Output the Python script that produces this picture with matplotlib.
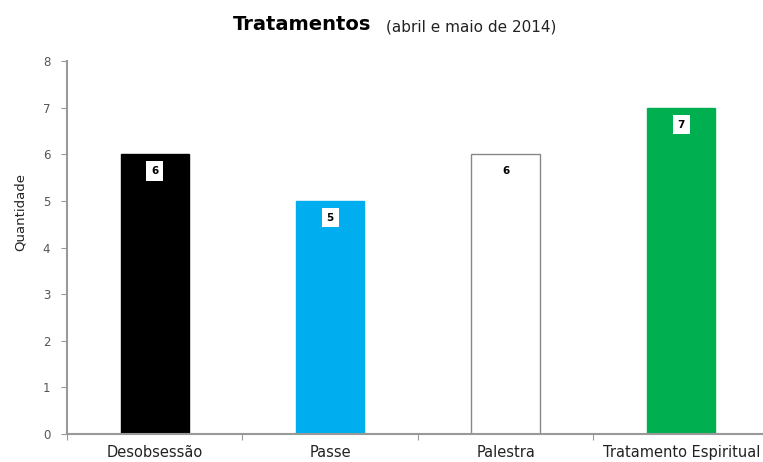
import matplotlib.pyplot as plt
import numpy as np

plt.rcParams["font.family"] = ["DejaVu Sans"]

categories = ["Desobsessão", "Passe", "Palestra", "Tratamento Espiritual"]
values = [6, 5, 6, 7]
colors = ["#000000", "#00aeef", "#ffffff", "#00b050"]
edges = ["#000000", "#00aeef", "#888888", "#00b050"]

fig = plt.figure(figsize=(7.63, 4.62), dpi=100)
ax = fig.add_axes([0.0878, 0.0606, 0.92, 0.807])

x = np.arange(len(categories)) + 0.5
bars = ax.bar(x, values, width=0.39, color=colors, edgecolor=edges, linewidth=1)

# value labels in small white boxes just under the top of each bar
for xi, v in zip(x, values):
    ax.text(xi, v - 0.36, str(v), ha="center", va="center", fontsize=7.5,
            fontweight="bold", color="black",
            bbox=dict(boxstyle="square,pad=0.45", fc="white", ec="none"))

ax.set_xlim(0, 4)
ax.set_ylim(0, 8)
ax.set_xticks(np.arange(0, 5))
ax.set_xticklabels([])
ax.set_xticks(x, minor=True)
ax.set_xticklabels(categories, minor=True, fontsize=10.5, color="#222222")
ax.tick_params(axis="x", which="minor", length=0, pad=8)
ax.tick_params(axis="x", which="major", length=4, direction="out", color="#999999")
ax.set_yticks(range(0, 9))
ax.tick_params(axis="y", length=4, direction="out", color="#999999",
               labelsize=8.5, labelcolor="#555555", pad=8)

for side in ["top", "right"]:
    ax.spines[side].set_visible(False)
for side in ["left", "bottom"]:
    ax.spines[side].set_color("#999999")
    ax.spines[side].set_linewidth(1.5)

ax.set_ylabel("Quantidade", fontsize=9.5, color="#222222")
ax.yaxis.set_label_coords(-0.058, 0.595)

fig.text(0.305, 0.935, "Tratamentos", fontsize=14, fontweight="bold",
         ha="left", va="baseline")
fig.text(0.506, 0.932, "(abril e maio de 2014)", fontsize=11,
         ha="left", va="baseline", color="#222222")

fig.savefig("out.png", dpi=100)
